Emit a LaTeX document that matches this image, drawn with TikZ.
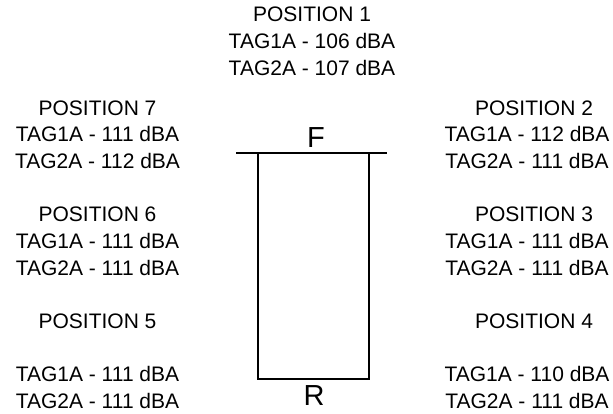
\documentclass[tikz,border=0pt]{standalone}
\usepackage{fontspec}
\setmainfont{Liberation Sans}
\begin{document}
\begin{tikzpicture}[x=1pt,y=1pt,
  lbl/.style={anchor=base,inner sep=0pt,font=\fontsize{21}{24}\selectfont},
  big/.style={anchor=base,inner sep=0pt,font=\fontsize{29}{32}\selectfont},
  wall/.style={line width=1.8pt}]
\useasboundingbox (0,0) rectangle (613,-414);
% position 1
\node[lbl] (p1h) at (312,-22) {POSITION 1};
\node[lbl] (p1a) at (312,-49) {TAG1A - 106 dBA};
\node[lbl] (p1b) at (312,-76) {TAG2A - 107 dBA};
% position 7
\node[lbl] (p7h) at (97.5,-115.5) {POSITION 7};
\node[lbl] (p7a) at (97.5,-142) {TAG1A - 111 dBA};
\node[lbl] (p7b) at (97.5,-168.7) {TAG2A - 112 dBA};
% position 6
\node[lbl] (p6h) at (97.5,-222) {POSITION 6};
\node[lbl] (p6a) at (97.5,-248.5) {TAG1A - 111 dBA};
\node[lbl] (p6b) at (97.5,-275.2) {TAG2A - 111 dBA};
% position 5
\node[lbl] (p5h) at (97.5,-328.3) {POSITION 5};
\node[lbl] (p5a) at (97.5,-381.7) {TAG1A - 111 dBA};
\node[lbl] (p5b) at (97.5,-408.3) {TAG2A - 111 dBA};
% position 2
\node[lbl] (p2h) at (534,-115.5) {POSITION 2};
\node[lbl] (p2a) at (527,-142) {TAG1A - 112 dBA};
\node[lbl] (p2b) at (527,-168.7) {TAG2A - 111 dBA};
% position 3
\node[lbl] (p3h) at (534,-222) {POSITION 3};
\node[lbl] (p3a) at (527,-248.5) {TAG1A - 111 dBA};
\node[lbl] (p3b) at (527,-275.2) {TAG2A - 111 dBA};
% position 4
\node[lbl] (p4h) at (534,-328.3) {POSITION 4};
\node[lbl] (p4a) at (527,-381.7) {TAG1A - 110 dBA};
\node[lbl] (p4b) at (527,-408.3) {TAG2A - 111 dBA};
% F / R
\node[big] (front) at (316,-147.2) {F};
\node[big] (rear) at (314,-405.5) {R};
% vehicle outline
\coordinate (tl) at (236,-152.7);
\coordinate (tr) at (387.3,-152.7);
\coordinate (a) at (258.3,-152.7);
\coordinate (b) at (368.8,-152.7);
\coordinate (c) at (258.3,-379.3);
\coordinate (d) at (368.8,-379.3);
\draw[wall] (tl) -- (tr);
\draw[wall] (a) -- (c) -- (d) -- (b);
\end{tikzpicture}
\end{document}
